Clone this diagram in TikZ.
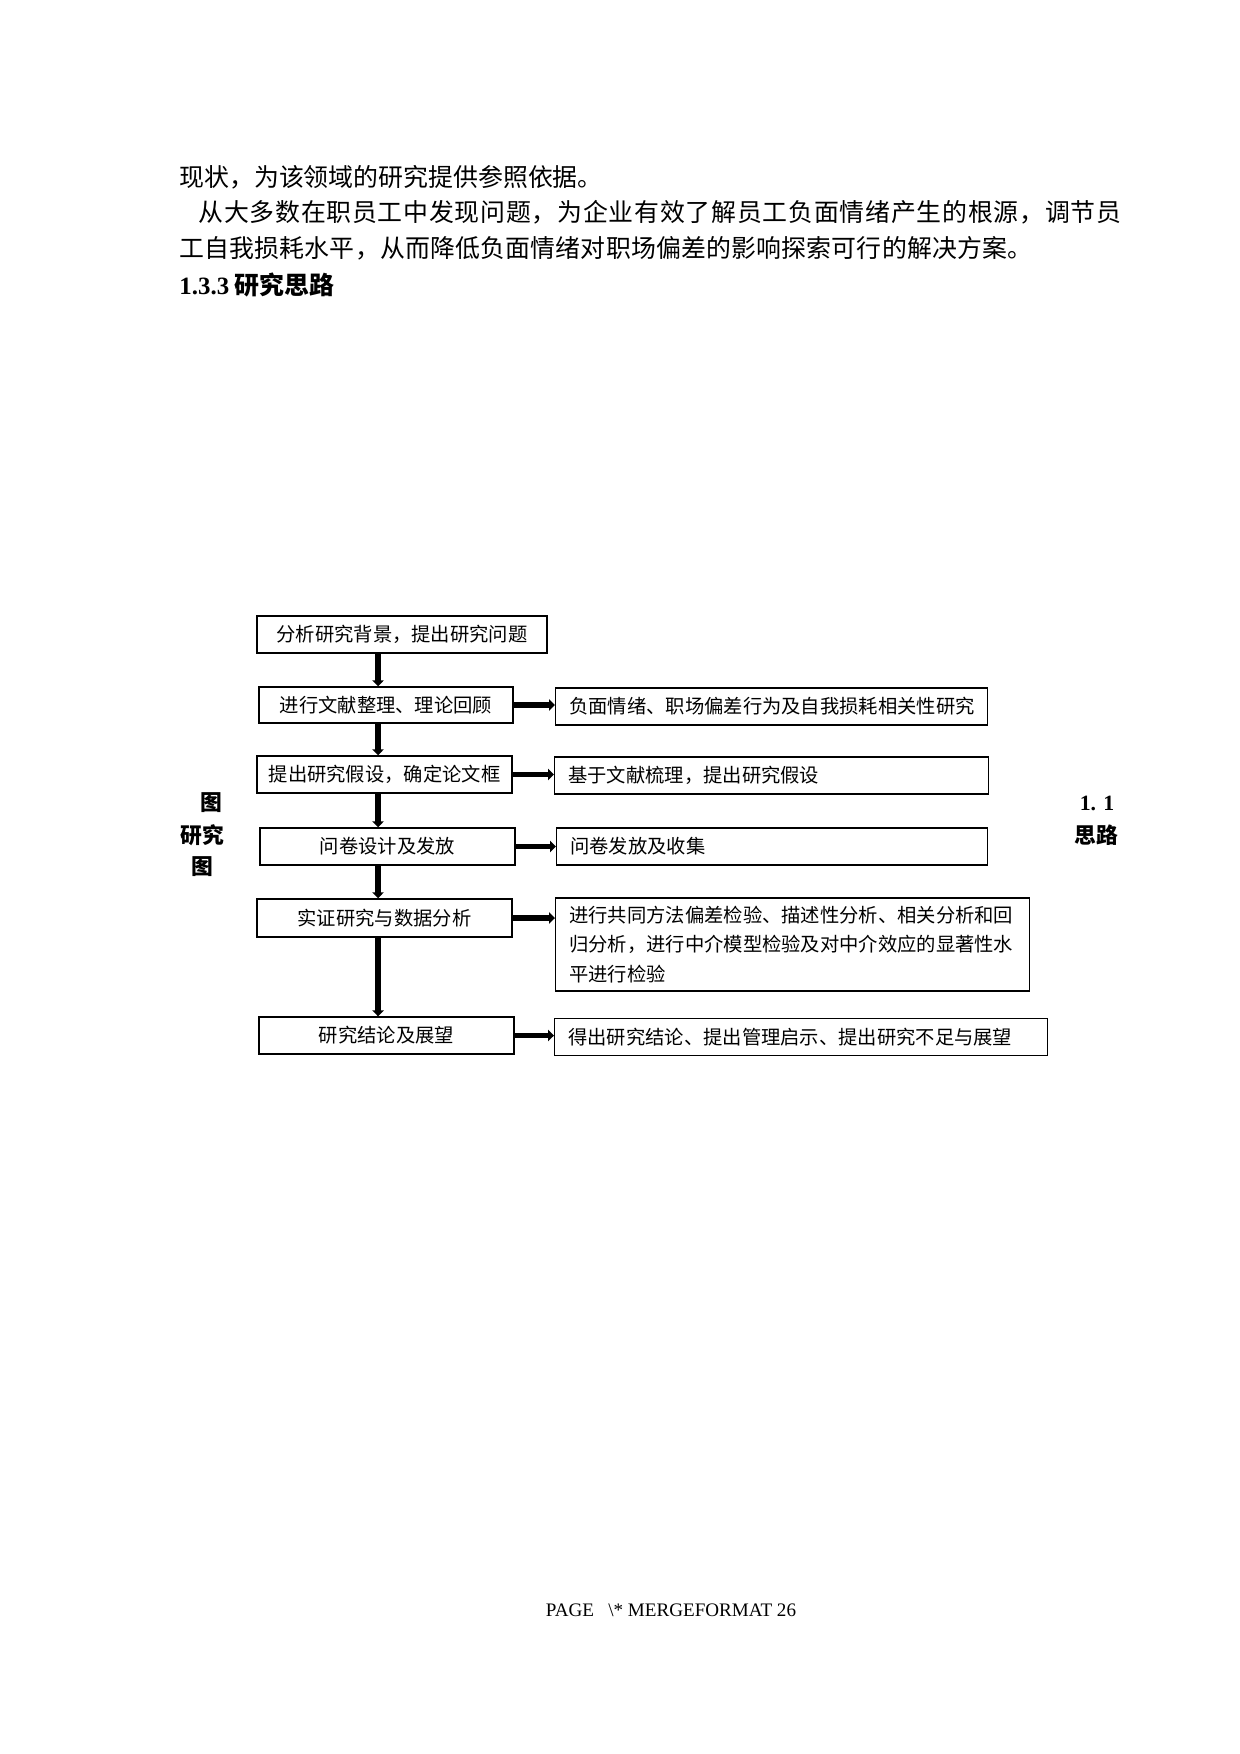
\documentclass[tikz,border=0pt]{standalone}
\usepackage{fontspec}
\setmainfont{Noto Sans CJK SC}
\newfontfamily\timesfont{Liberation Serif}
\usetikzlibrary{arrows.meta}

% spread the characters of one line over a given width
\makeatletter
\newcommand\spreadline[2]{\makebox[#1][s]{\@tfor\sp@ch:=#2\do{\sp@ch\hskip 0pt plus 1fil}\unskip}}
\makeatother

\tikzset{
  stepbox/.style={draw, line width=0.7pt, inner sep=0pt, minimum height=6.27mm,
    font=\fontsize{9.3}{14.2}\selectfont},
  notebox/.style={draw, line width=0.7pt, anchor=west, align=left, inner xsep=2.3mm,
    inner ysep=0pt, minimum height=6.27mm, font=\fontsize{9.3}{14.2}\selectfont},
  flow/.style={line width=2.8pt, -{Triangle[width=5.4pt,length=2.8pt]}},
  body/.style={anchor=west, inner sep=0pt, font=\fontsize{12}{14}\selectfont},
  tag/.style={inner sep=0pt, font=\fontsize{10.5}{12}\selectfont\bfseries}
}

\begin{document}
\begin{tikzpicture}[x=0.16935mm, y=-0.16935mm]
\useasboundingbox (0,0) rectangle (1240,1754);

% text of the page
\node[body] (p1) at (179,177) {现状，为该领域的研究提供参照依据。};
\node[body] (p2) at (198,212) {\spreadline{156.3mm}{从大多数在职员工中发现问题，为企业有效了解员工负面情绪产生的根源，调节员}};
\node[body] (p3) at (179,248) {\spreadline{144.46mm}{工自我损耗水平，从而降低负面情绪对职场偏差的影响探索可行的解决方案。}};
\node[body, font=\fontsize{12}{14}\selectfont\bfseries] (h1) at (179,285) {{\timesfont 1.3.3} 研究思路};

% steps
\node[stepbox, minimum width=49.11mm] (s1) at (402,634.5) {分析研究背景，提出研究问题};
\node[stepbox, minimum width=43.01mm, minimum height=6.1mm] (s2) at (386,705) {进行文献整理、理论回顾};
\node[stepbox, minimum width=43.18mm] (s3) at (384.5,774.5) {提出研究假设，确定论文框};
\node[stepbox, minimum width=43.18mm] (s4) at (387.5,846.5) {问卷设计及发放};
\node[stepbox, minimum width=43.18mm, minimum height=6.44mm] (s5) at (384.5,918) {实证研究与数据分析};
\node[stepbox, minimum width=43.18mm] (s6) at (386.5,1035.5) {研究结论及展望};

% notes
\node[notebox, text width=68.56mm] (n2) at (555,706.5) {负面情绪、职场偏差行为及自我损耗相关性研究};
\node[notebox, text width=68.9mm] (n3) at (554,775.5) {基于文献梳理，提出研究假设};
\node[notebox, text width=68.39mm] (n4) at (556,846.5) {问卷发放及收集};
\node[notebox, text width=75.67mm, minimum height=15.75mm] (n5) at (555,944.5) {进行共同方法偏差检验、描述性分析、相关分析和回\\归分析，进行中介模型检验及对中介效应的显著性水\\平进行检验};
\node[notebox, text width=78.89mm] (n6) at (554,1037) {得出研究结论、提出管理启示、提出研究不足与展望};

% arrows
\coordinate (spine) at (378,0);
\foreach \a/\b in {s1/s2,s2/s3,s3/s4,s4/s5,s5/s6}
\draw[flow] (\a.south -| spine) -- (\b.north -| spine);
\foreach \n in {2,...,6}
\draw[flow] (s\n.east) -- (s\n.east -| n\n.west);

% caption pieces
\node[tag] (l1) at (211,803) {图};
\node[tag] (l2) at (202,835) {研究};
\node[tag] (l3) at (202,867) {图};
\node[tag] (r1) at (1097,803) {{\timesfont 1. 1}};
\node[tag] (r2) at (1096,835) {思路};

\node[font=\timesfont\fontsize{9.2}{11}\selectfont] (foot) at (671,1610) {PAGE\ \ \ \textbackslash* MERGEFORMAT 26};
\end{tikzpicture}
\end{document}
